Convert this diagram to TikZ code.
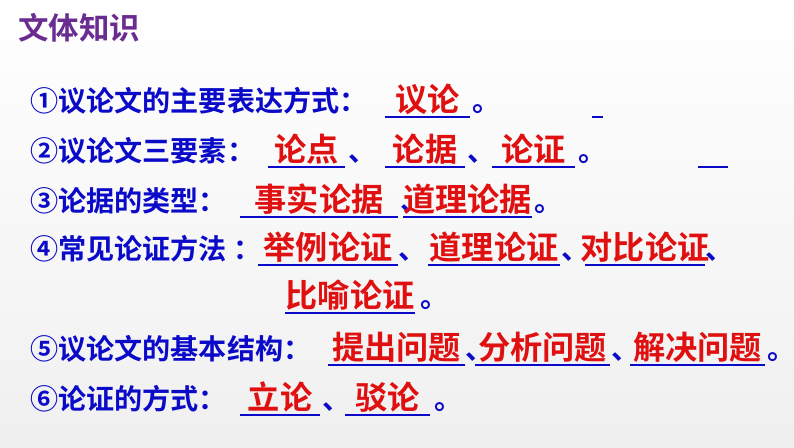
\documentclass[tikz,border=0pt]{standalone}
\usepackage{fontspec}
\setmainfont{Noto Sans CJK SC}[BoldFont={Noto Sans CJK SC Bold}]
\usetikzlibrary{positioning}
\definecolor{TitlePurple}{HTML}{6A2C91}
\definecolor{TextBlue}{HTML}{0A0AC8}
\definecolor{AnsRed}{HTML}{E01010}
\tikzset{
  line/.style={anchor=base west, inner sep=0pt, text=TextBlue, font=\fontsize{24}{26}\selectfont\bfseries},
  ans/.style={anchor=base, inner sep=0pt, text=AnsRed, font=\fontsize{27.5}{29}\selectfont\bfseries},
  rule/.style={draw=TextBlue, line width=1.3pt}
}
% blank: name, left x, right x, baseline y, answer
\newcommand{\blank}[5]{%
  \node[ans] (#1) at ({(#2+#3)/2}, #4) {#5};
  \draw[rule] (#2, #4+6) -- (#3, #4+6);}
\begin{document}
\begin{tikzpicture}[x=0.03cm, y=-0.03cm]
  \useasboundingbox[top color=white, bottom color=gray!12] (0,0) rectangle (794,447);
  % Title
  \node[anchor=base west, inner sep=0pt, text=TitlePurple, font=\fontsize{26}{28}\selectfont\bfseries] (title) at (18,39) {文体知识};
  % Row 1
  \node[line] (r1) at (30,111) {①议论文的主要表达方式：};
  \blank{a1}{385}{470}{111}{议论}
  \node[line] (p1) at (472,111) {。};
  \draw[rule] (592,117) -- (603,117);
  % Row 2
  \node[line] (r2) at (30,161) {②议论文三要素：};
  \blank{a2}{268}{345}{161}{论点}
  \node[line] (c2a) at (348,161) {、};
  \blank{a3}{385}{465}{161}{论据}
  \node[line] (c2b) at (467,161) {、};
  \blank{a4}{492}{575}{161}{论证}
  \node[line] (p2) at (578,161) {。};
  \draw[rule] (698,167) -- (728,167);
  % Row 3
  \node[line] (r3) at (30,211) {③论据的类型：};
  \blank{a5}{240}{398}{211}{事实论据}
  \node[line] (c3) at (400,211) {、};
  \blank{a6}{403}{532}{211}{道理论据}
  \node[line] (p3) at (534,211) {。};
  % Row 4
  \node[line] (r4) at (30,259) {④常见论证方法 ：};
  \blank{a7}{258}{398}{259}{举例论证}
  \node[line] (c4a) at (398,259) {、};
  \blank{a8}{428}{560}{259}{道理论证}
  \node[line] (c4b) at (561,259) {、};
  \blank{a9}{585}{705}{259}{对比论证}
  \node[line] (c4c) at (705,259) {、};
  % Row 5
  \blank{a10}{285}{415}{307}{比喻论证}
  \node[line] (p5) at (420,307) {。};
  % Row 6
  \node[line] (r6) at (30,359) {⑤议论文的基本结构：};
  \blank{a11}{328}{465}{359}{提出问题}
  \node[line] (c6a) at (465,359) {、};
  \blank{a12}{475}{610}{359}{分析问题}
  \node[line] (c6b) at (611,359) {、};
  \blank{a13}{630}{765}{359}{解决问题}
  \node[line] (p6) at (767,359) {。};
  % Row 7
  \node[line] (r7) at (30,409) {⑥论证的方式：};
  \blank{a14}{240}{320}{409}{立论}
  \node[line] (c7) at (322,409) {、};
  \blank{a15}{345}{430}{409}{驳论}
  \node[line] (p7) at (434,409) {。};
\end{tikzpicture}
\end{document}
